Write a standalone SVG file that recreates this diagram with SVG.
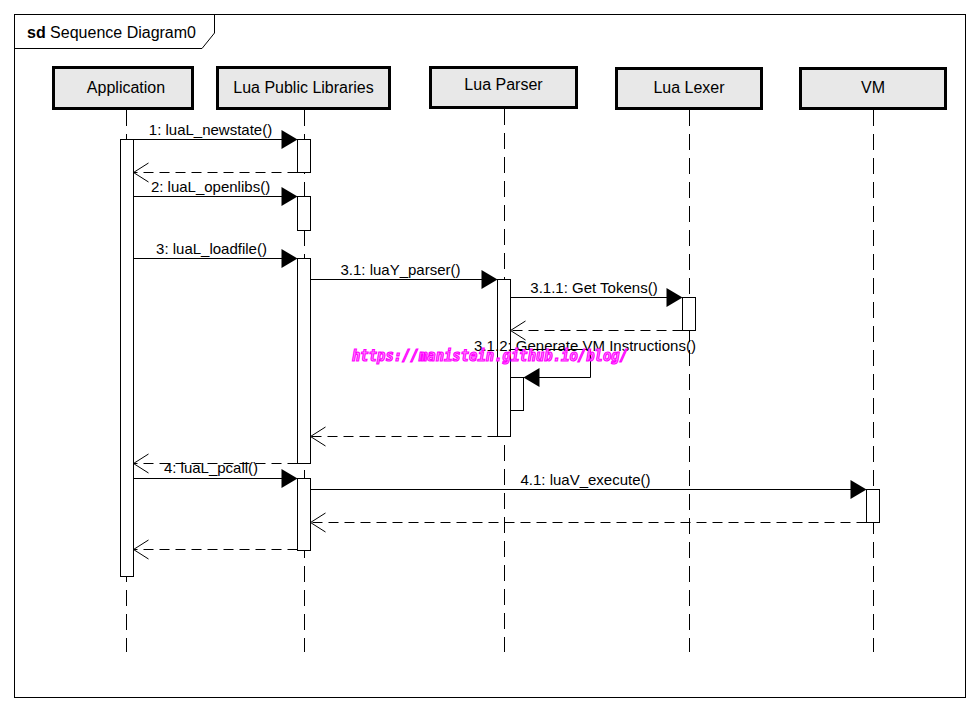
<svg xmlns="http://www.w3.org/2000/svg" width="980" height="712" viewBox="0 0 980 712">
<style>
.frame{fill:#fff;stroke:#000;stroke-width:1}
.head{fill:#e8e8e8;stroke:#000;stroke-width:3}
.ht{font-family:"Liberation Sans",Arial,sans-serif;font-size:16px;fill:#000;text-anchor:middle}
.life{stroke:#000;stroke-width:1;stroke-dasharray:16 8;fill:none}
.act{fill:#fff;stroke:#000;stroke-width:1}
.msg{stroke:#000;stroke-width:1;fill:none}
.ret{stroke:#000;stroke-width:1;fill:none;stroke-dasharray:10 6}
.ah{fill:#000;stroke:none}
.oh{fill:none;stroke:#000;stroke-width:1}
.lbl{font-family:"Liberation Sans",Arial,sans-serif;font-size:15px;fill:#000;text-anchor:middle}
.wm{font-family:"DejaVu Sans Mono","Liberation Mono",monospace;font-size:15px;font-weight:bold;font-style:italic;fill:#ff99ff;stroke:#ff00ff;stroke-width:1.2}
</style>
<rect x="0" y="0" width="980" height="712" fill="#fff"/>
<g id="frame">
<rect class="frame" x="14.5" y="14.5" width="951" height="683"/>
<path d="M14.5,48.5 H202 L214.5,33 V14.5" fill="none" stroke="#000"/>
<text x="27" y="38" font-family="Liberation Sans,Arial,sans-serif" font-size="16" fill="#000"><tspan font-weight="bold">sd</tspan> Sequence Diagram0</text>
</g>
<g id="application">
<rect class="head" x="53.5" y="67.5" width="139" height="41"/>
<text class="ht" x="126" y="93">Application</text>
<line class="life" x1="126.5" y1="110" x2="126.5" y2="652"/>
<rect class="act" x="120.5" y="139.5" width="13" height="437"/>
</g>
<g id="lua-public-libraries">
<rect class="head" x="217.5" y="67.5" width="172" height="41"/>
<text class="ht" x="303.5" y="93">Lua Public Libraries</text>
<line class="life" x1="304.5" y1="110" x2="304.5" y2="652"/>
<rect class="act" x="297.5" y="139.5" width="13" height="33"/>
<rect class="act" x="297.5" y="196.5" width="13" height="34"/>
<rect class="act" x="297.5" y="258.5" width="13" height="205"/>
<rect class="act" x="297.5" y="478.5" width="13" height="72"/>
</g>
<g id="lua-parser">
<rect class="head" x="430.5" y="67.5" width="146" height="40"/>
<text class="ht" x="503.5" y="90">Lua Parser</text>
<line class="life" x1="504.5" y1="109" x2="504.5" y2="652"/>
<rect class="act" x="497.5" y="279.5" width="13" height="157"/>
<rect class="act" x="510.5" y="377.5" width="13" height="33"/>
</g>
<g id="lua-lexer">
<rect class="head" x="616.5" y="68.5" width="145" height="40"/>
<text class="ht" x="689" y="93">Lua Lexer</text>
<line class="life" x1="689.5" y1="110" x2="689.5" y2="652"/>
<rect class="act" x="682.5" y="297.5" width="13" height="33"/>
</g>
<g id="vm">
<rect class="head" x="800.5" y="68.5" width="145" height="40"/>
<text class="ht" x="873" y="93">VM</text>
<line class="life" x1="873.5" y1="110" x2="873.5" y2="652"/>
<rect class="act" x="866.5" y="489.5" width="13" height="33"/>
</g>
<g id="connectors">
<line class="msg" x1="133.5" y1="139.5" x2="282" y2="139.5"/>
<polygon class="ah" points="297.5,139.5 281.5,130 281.5,149"/>
<text class="lbl" x="210.5" y="135">1: luaL_newstate()</text>
<line class="ret" x1="297.5" y1="172.5" x2="134" y2="172.5"/>
<polyline class="oh" points="148.5,163 133.5,172.5 148.5,182"/>
<line class="msg" x1="133.5" y1="196.5" x2="282" y2="196.5"/>
<polygon class="ah" points="297.5,196.5 281.5,187 281.5,206"/>
<text class="lbl" x="210.5" y="192">2: luaL_openlibs()</text>
<line class="msg" x1="133.5" y1="258.5" x2="282" y2="258.5"/>
<polygon class="ah" points="297.5,258.5 281.5,249 281.5,268"/>
<text class="lbl" x="211.5" y="254">3: luaL_loadfile()</text>
<line class="msg" x1="310.5" y1="279.5" x2="482" y2="279.5"/>
<polygon class="ah" points="497.5,279.5 481.5,270 481.5,289"/>
<text class="lbl" x="400.5" y="275">3.1: luaY_parser()</text>
<line class="msg" x1="510.5" y1="297.5" x2="667" y2="297.5"/>
<polygon class="ah" points="682.5,297.5 666.5,288 666.5,307"/>
<text class="lbl" x="594" y="293">3.1.1: Get Tokens()</text>
<line class="ret" x1="682.5" y1="330.5" x2="511" y2="330.5"/>
<polyline class="oh" points="525.5,321 510.5,330.5 525.5,340"/>
<path class="msg" d="M510.5,349.5 H590.5 V377.5 H539"/>
<polygon class="ah" points="523.5,377.5 539.5,368 539.5,387"/>
<text class="lbl" x="585" y="351">3.1.2: Generate VM Instructions()</text>
<line class="ret" x1="497.5" y1="436.5" x2="311" y2="436.5"/>
<polyline class="oh" points="325.5,427 310.5,436.5 325.5,446"/>
<line class="ret" x1="297.5" y1="463.5" x2="134" y2="463.5"/>
<polyline class="oh" points="148.5,454 133.5,463.5 148.5,473"/>
<line class="msg" x1="133.5" y1="478.5" x2="282" y2="478.5"/>
<polygon class="ah" points="297.5,478.5 281.5,469 281.5,488"/>
<text class="lbl" x="211" y="473">4: luaL_pcall()</text>
<line class="msg" x1="310.5" y1="489.5" x2="851" y2="489.5"/>
<polygon class="ah" points="866.5,489.5 850.5,480 850.5,499"/>
<text class="lbl" x="585.5" y="485">4.1: luaV_execute()</text>
<line class="ret" x1="866.5" y1="522.5" x2="311" y2="522.5"/>
<polyline class="oh" points="325.5,513 310.5,522.5 325.5,532"/>
<line class="ret" x1="297.5" y1="549.5" x2="134" y2="549.5"/>
<polyline class="oh" points="148.5,540 133.5,549.5 148.5,559"/>
</g>
<text class="wm" x="352" y="361" textLength="276" lengthAdjust="spacingAndGlyphs">https://manistein.github.io/blog/</text>
</svg>
